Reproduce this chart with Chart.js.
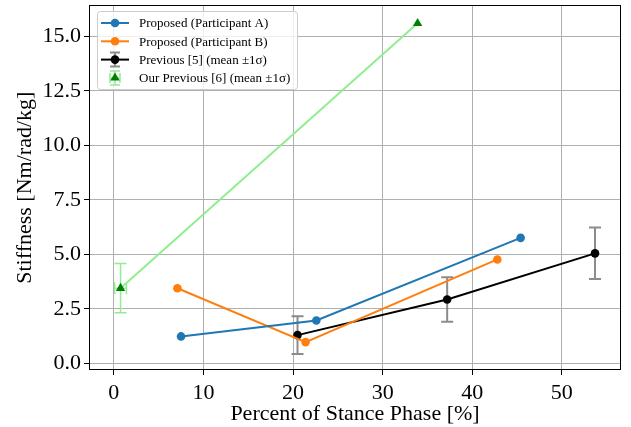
<!DOCTYPE html>
<html>
<head>
<meta charset="utf-8">
<script src="https://cdn.jsdelivr.net/npm/chart.js@4.4.1/dist/chart.umd.min.js"></script>
<style>
  html, body { margin: 0; padding: 0; background: #fff; }
  #wrap { width: 631px; height: 427px; }
</style>
</head>
<body>
<div id="wrap"><canvas id="chart" width="631" height="427"></canvas></div>
<script>
// Proposed, participant A
const xA = [7.5, 22.6, 45.4];
const yA = [1.24, 1.97, 5.76];
// Proposed, participant B
const xB = [7.1, 21.4, 42.8];
const yB = [3.45, 0.98, 4.77];
// Previous [5], mean and 1 sigma
const xPrev5 = [20.5, 37.2, 53.7];
const yPrev5 = [1.30, 2.93, 5.05];
const sdPrev5 = [0.87, 1.02, 1.18];
// Our previous [6]
const xPrev6 = [0.75, 33.9];
const yPrev6 = [3.45, 15.6];
const ySdPrev6 = [1.13, 0];
const xSdPrev6 = [0.65, 0];

const xTicks = [0, 10, 20, 30, 40, 50];
const yTicks = [0, 2.5, 5, 7.5, 10, 12.5, 15];

const serif = "'Liberation Serif', 'DejaVu Serif', serif";

function pts(xs, ys) {
  return xs.map((x, i) => ({ x: x, y: ys[i] }));
}

const legendItems = [
  { label: 'Proposed (Participant A)', color: '#1f77b4', line: true, marker: 'circle' },
  { label: 'Proposed (Participant B)', color: '#ff7f0e', line: true, marker: 'circle' },
  { label: 'Previous [5] (mean \u00b11\u03c3)', color: '#000000', line: true, marker: 'circle', err: 'rgba(120,120,120,0.85)' },
  { label: 'Our Previous [6] (mean \u00b11\u03c3)', color: '#008000', line: false, marker: 'triangle', err: '#90ee90', xerr: true }
];

// error bars drawn through the chart scales
const errorBars = {
  id: 'errorBars',
  beforeDatasetsDraw(chart) {
    const ctx = chart.ctx;
    const xs = chart.scales.x, ys = chart.scales.y;
    function vbar(x, y, sd, color, cap) {
      const px = xs.getPixelForValue(x);
      const top = ys.getPixelForValue(y + sd), bot = ys.getPixelForValue(y - sd);
      ctx.strokeStyle = color;
      ctx.beginPath();
      ctx.moveTo(px, top); ctx.lineTo(px, bot);
      ctx.moveTo(px - cap, top); ctx.lineTo(px + cap, top);
      ctx.moveTo(px - cap, bot); ctx.lineTo(px + cap, bot);
      ctx.stroke();
    }
    function hbar(x, y, sd, color, cap) {
      const py = ys.getPixelForValue(y);
      const l = xs.getPixelForValue(x - sd), r = xs.getPixelForValue(x + sd);
      ctx.strokeStyle = color;
      ctx.beginPath();
      ctx.moveTo(l, py); ctx.lineTo(r, py);
      ctx.moveTo(l, py - cap); ctx.lineTo(l, py + cap);
      ctx.moveTo(r, py - cap); ctx.lineTo(r, py + cap);
      ctx.stroke();
    }
    ctx.save();
    ctx.lineWidth = 2;
    xPrev5.forEach((x, i) => vbar(x, yPrev5[i], sdPrev5[i], 'rgba(120,120,120,0.85)', 6));
    ctx.lineWidth = 1.5;
    xPrev6.forEach((x, i) => {
      if (ySdPrev6[i] > 0) vbar(x, yPrev6[i], ySdPrev6[i], '#90ee90', 6);
      if (xSdPrev6[i] > 0) hbar(x, yPrev6[i], xSdPrev6[i], '#90ee90', 6);
    });
    ctx.restore();
  }
};

// full axes frame + legend box
const frameAndLegend = {
  id: 'frameAndLegend',
  afterDatasetsDraw(chart) {
    const ctx = chart.ctx, a = chart.chartArea;
    ctx.save();
    ctx.strokeStyle = '#000';
    ctx.lineWidth = 1;
    ctx.strokeRect(Math.round(a.left) + 0.5, Math.round(a.top) + 0.5,
      Math.round(a.right - a.left) - 1, Math.round(a.bottom - a.top) - 1);
    ctx.restore();
  },
  afterDraw(chart) {
    const ctx = chart.ctx, a = chart.chartArea;
    const bx = Math.round(a.left) + 8, by = Math.round(a.top) + 6, bw = 200, bh = 78;
    ctx.save();
    ctx.fillStyle = 'rgba(255,255,255,0.8)';
    ctx.strokeStyle = '#cccccc';
    ctx.lineWidth = 1;
    ctx.beginPath();
    ctx.roundRect(bx + 0.5, by + 0.5, bw, bh, 3);
    ctx.fill();
    ctx.stroke();
    ctx.font = '13px ' + serif;
    ctx.textBaseline = 'middle';
    legendItems.forEach((it, i) => {
      const cy = by + 12 + i * 18.3;
      const x0 = bx + 4, x1 = bx + 32, cx = (x0 + x1) / 2;
      if (it.err) {
        ctx.strokeStyle = it.err;
        ctx.lineWidth = it.xerr ? 1.5 : 2;
        ctx.beginPath();
        ctx.moveTo(cx, cy - 7); ctx.lineTo(cx, cy + 7);
        ctx.moveTo(cx - 5, cy - 7); ctx.lineTo(cx + 5, cy - 7);
        ctx.moveTo(cx - 5, cy + 7); ctx.lineTo(cx + 5, cy + 7);
        if (it.xerr) {
          ctx.moveTo(cx - 5, cy); ctx.lineTo(cx + 5, cy);
          ctx.moveTo(cx - 5, cy - 5); ctx.lineTo(cx - 5, cy + 5);
          ctx.moveTo(cx + 5, cy - 5); ctx.lineTo(cx + 5, cy + 5);
        }
        ctx.stroke();
      }
      if (it.line) {
        ctx.strokeStyle = it.color;
        ctx.lineWidth = 2;
        ctx.beginPath();
        ctx.moveTo(x0, cy); ctx.lineTo(x1, cy);
        ctx.stroke();
      }
      ctx.fillStyle = it.color;
      ctx.beginPath();
      if (it.marker === 'circle') {
        ctx.arc(cx, cy, 4.3, 0, Math.PI * 2);
      } else {
        const r = 5.4;
        ctx.moveTo(cx, cy - r);
        ctx.lineTo(cx + r * 0.866, cy + r * 0.5);
        ctx.lineTo(cx - r * 0.866, cy + r * 0.5);
        ctx.closePath();
      }
      ctx.fill();
      ctx.fillStyle = '#000';
      ctx.fillText(it.label, bx + 42, cy + 1);
    });
    ctx.restore();
  }
};

new Chart(document.getElementById('chart'), {
  type: 'scatter',
  data: {
    datasets: [{
      label: 'Proposed (Participant A)',
      data: pts(xA, yA),
      showLine: true,
      borderColor: '#1f77b4',
      backgroundColor: '#1f77b4',
      borderWidth: 2,
      pointRadius: 4.3,
      pointBorderWidth: 0
    }, {
      label: 'Proposed (Participant B)',
      data: pts(xB, yB),
      showLine: true,
      borderColor: '#ff7f0e',
      backgroundColor: '#ff7f0e',
      borderWidth: 2,
      pointRadius: 4.3,
      pointBorderWidth: 0
    }, {
      label: 'Previous [5] (mean \u00b11\u03c3)',
      data: pts(xPrev5, yPrev5),
      showLine: true,
      borderColor: '#000000',
      backgroundColor: '#000000',
      borderWidth: 2,
      pointRadius: 4.3,
      pointBorderWidth: 0
    }, {
      label: 'Our Previous [6] (mean \u00b11\u03c3)',
      data: pts(xPrev6, yPrev6),
      showLine: true,
      borderColor: '#90ee90',
      backgroundColor: '#008000',
      pointBorderColor: '#008000',
      borderWidth: 2,
      pointStyle: 'triangle',
      pointRadius: 5.4,
      pointBorderWidth: 0
    }]
  },
  options: {
    responsive: false,
    animation: false,
    layout: { padding: { left: 0, right: 10, top: 4, bottom: 0 } },
    plugins: { legend: { display: false }, tooltip: { enabled: false } },
    scales: {
      x: {
        type: 'linear',
        min: -2.77,
        max: 56.6,
        afterBuildTicks: s => { s.ticks = xTicks.map(v => ({ value: v })); },
        afterFit: s => { s.height = 57; s.paddingLeft = 0; s.paddingRight = 0; },
        border: { display: false },
        grid: { color: '#b0b0b0', lineWidth: 1, tickLength: 5, tickColor: '#000' },
        ticks: { color: '#000', padding: 5, maxRotation: 0, font: { family: serif, size: 22 } },
        title: { display: true, text: 'Percent of Stance Phase [%]', color: '#000', padding: { top: 0, bottom: 0 }, font: { family: serif, size: 22 } }
      },
      y: {
        type: 'linear',
        min: -0.3,
        max: 16.42,
        afterBuildTicks: s => { s.ticks = yTicks.map(v => ({ value: v })); },
        afterFit: s => { s.width = 89; s.paddingTop = 0; s.paddingBottom = 0; },
        border: { display: false },
        grid: { color: '#b0b0b0', lineWidth: 1, tickLength: 5, tickColor: '#000' },
        ticks: { color: '#000', padding: 3, font: { family: serif, size: 22 }, callback: v => v.toFixed(1) },
        title: { display: true, text: 'Stiffness [Nm/rad/kg]', color: '#000', padding: { top: 12, bottom: 0 }, font: { family: serif, size: 22 } }
      }
    }
  },
  plugins: [errorBars, frameAndLegend]
});
</script>
</body>
</html>
